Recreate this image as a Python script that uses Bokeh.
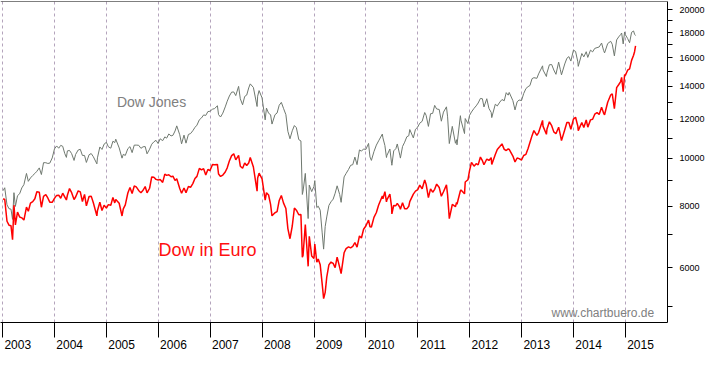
import pandas as pd
from bokeh.plotting import figure
from bokeh.models import FixedTicker, PrintfTickFormatter, CustomJSTickFormatter, Label, Range1d, Span
from bokeh.embed import file_html
from bokeh.resources import INLINE

dates = [
    "2003-01-03", "2003-01-15", "2003-01-31", "2003-02-14", "2003-02-28", "2003-03-11", "2003-03-21", "2003-03-31",
    "2003-04-15", "2003-04-30", "2003-05-15", "2003-05-30", "2003-06-17", "2003-06-30", "2003-07-15", "2003-07-31",
    "2003-08-15", "2003-08-29", "2003-09-15", "2003-09-30", "2003-10-15", "2003-10-31", "2003-11-14", "2003-11-28",
    "2003-12-15", "2003-12-31",
    "2004-01-15", "2004-01-30", "2004-02-13", "2004-02-27", "2004-03-12", "2004-03-24", "2004-03-31", "2004-04-15",
    "2004-04-30", "2004-05-17", "2004-05-28", "2004-06-15", "2004-06-30", "2004-07-15", "2004-07-30", "2004-08-12",
    "2004-08-31", "2004-09-15", "2004-09-30", "2004-10-25", "2004-10-29", "2004-11-15", "2004-11-30", "2004-12-15",
    "2004-12-31",
    "2005-01-14", "2005-01-31", "2005-02-15", "2005-02-28", "2005-03-07", "2005-03-31", "2005-04-20", "2005-04-29",
    "2005-05-13", "2005-05-31", "2005-06-15", "2005-06-30", "2005-07-15", "2005-07-29", "2005-08-15", "2005-08-31",
    "2005-09-15", "2005-09-30", "2005-10-13", "2005-10-31", "2005-11-15", "2005-11-30", "2005-12-15", "2005-12-30",
    "2006-01-13", "2006-01-31", "2006-02-15", "2006-02-28", "2006-03-15", "2006-03-31", "2006-04-13", "2006-04-28",
    "2006-05-10", "2006-05-31", "2006-06-13", "2006-06-30", "2006-07-14", "2006-07-31", "2006-08-15", "2006-08-31",
    "2006-09-15", "2006-09-29", "2006-10-16", "2006-10-31", "2006-11-15", "2006-11-30", "2006-12-15", "2006-12-29",
    "2007-01-16", "2007-01-31", "2007-02-20", "2007-02-28", "2007-03-14", "2007-03-30", "2007-04-16", "2007-04-30",
    "2007-05-15", "2007-05-31", "2007-06-15", "2007-06-29", "2007-07-19", "2007-07-31", "2007-08-16", "2007-08-31",
    "2007-09-14", "2007-09-28", "2007-10-09", "2007-10-31", "2007-11-26", "2007-11-30", "2007-12-10", "2007-12-31",
    "2008-01-22", "2008-01-31", "2008-02-15", "2008-02-29", "2008-03-10", "2008-03-31", "2008-04-15", "2008-04-30",
    "2008-05-15", "2008-05-30", "2008-06-16", "2008-06-30", "2008-07-15", "2008-07-31", "2008-08-15", "2008-08-29",
    "2008-09-15", "2008-09-30", "2008-10-10", "2008-10-15", "2008-10-31", "2008-11-20", "2008-11-28", "2008-12-15",
    "2008-12-31",
    "2009-01-06", "2009-01-20", "2009-01-30", "2009-02-13", "2009-02-27", "2009-03-09", "2009-03-20", "2009-03-31",
    "2009-04-15", "2009-04-30", "2009-05-15", "2009-05-29", "2009-06-12", "2009-06-30", "2009-07-10", "2009-07-31",
    "2009-08-14", "2009-08-31", "2009-09-15", "2009-09-30", "2009-10-15", "2009-10-30", "2009-11-16", "2009-11-30",
    "2009-12-15", "2009-12-31",
    "2010-01-19", "2010-01-29", "2010-02-08", "2010-02-26", "2010-03-15", "2010-03-31", "2010-04-26", "2010-04-30",
    "2010-05-14", "2010-05-25", "2010-05-28", "2010-06-18", "2010-06-30", "2010-07-02", "2010-07-15", "2010-07-30",
    "2010-08-09", "2010-08-27", "2010-08-31", "2010-09-15", "2010-09-30", "2010-10-15", "2010-10-29", "2010-11-05",
    "2010-11-30", "2010-12-15", "2010-12-31",
    "2011-01-14", "2011-01-31", "2011-02-18", "2011-02-28", "2011-03-16", "2011-03-31", "2011-04-15", "2011-04-29",
    "2011-05-13", "2011-05-31", "2011-06-15", "2011-06-30", "2011-07-21", "2011-07-29", "2011-08-10", "2011-08-31",
    "2011-09-22", "2011-09-30", "2011-10-03", "2011-10-27", "2011-10-31", "2011-11-25", "2011-11-30", "2011-12-19",
    "2011-12-30",
    "2012-01-13", "2012-01-31", "2012-02-15", "2012-02-29", "2012-03-16", "2012-03-30", "2012-04-10", "2012-04-30",
    "2012-05-15", "2012-05-31", "2012-06-04", "2012-06-29", "2012-07-13", "2012-07-31", "2012-08-15", "2012-08-31",
    "2012-09-14", "2012-09-28", "2012-10-05", "2012-10-31", "2012-11-15", "2012-11-30", "2012-12-14", "2012-12-31",
    "2013-01-15", "2013-01-31", "2013-02-15", "2013-02-28", "2013-03-15", "2013-03-28", "2013-04-18", "2013-04-30",
    "2013-05-28", "2013-05-31", "2013-06-24", "2013-06-28", "2013-07-15", "2013-07-31", "2013-08-15", "2013-08-30",
    "2013-09-18", "2013-09-30", "2013-10-08", "2013-10-31", "2013-11-15", "2013-11-29", "2013-12-13", "2013-12-31",
    "2014-01-15", "2014-01-31", "2014-02-03", "2014-02-28", "2014-03-14", "2014-03-31", "2014-04-11", "2014-04-30",
    "2014-05-15", "2014-05-30", "2014-06-15", "2014-06-30", "2014-07-17", "2014-07-31", "2014-08-07", "2014-08-29",
    "2014-09-19", "2014-09-30", "2014-10-15", "2014-10-31", "2014-11-14", "2014-11-28", "2014-12-05", "2014-12-16",
    "2014-12-26", "2014-12-31",
    "2015-01-16", "2015-01-30", "2015-02-13", "2015-02-27", "2015-03-06", "2015-03-13",
]

dow_jones = [
    8600, 8720, 8054, 7908, 7891, 7524, 8521, 7992, 8403, 8480, 8713, 8850, 9323, 8985, 9128, 9234,
    9321, 9416, 9567, 9275, 9803, 9801, 9768, 9782, 10022, 10454,
    10600, 10488, 10628, 10584, 10240, 10048, 10358, 10380, 10226, 9906, 10188, 10400, 10435, 10140, 10140, 9814,
    10174, 10230, 10080, 9750, 10027, 10550, 10428, 10690, 10783,
    10558, 10490, 10837, 10766, 10940, 10504, 10012, 10193, 10140, 10467, 10566, 10275, 10640, 10641, 10634, 10482,
    10558, 10569, 10217, 10440, 10686, 10806, 10881, 10718,
    10960, 10865, 11058, 10993, 11210, 11109, 11138, 11367, 11642, 11168, 10706, 11150, 10739, 11186, 11230, 11381,
    11560, 11679, 11980, 12081, 12251, 12222, 12445, 12463,
    12582, 12622, 12786, 12269, 12133, 12354, 12720, 13063, 13383, 13628, 13639, 13409, 14000, 13212, 12846, 13358,
    13442, 13896, 14164, 13930, 12743, 13372, 13727, 13265,
    11971, 12650, 12348, 12266, 11740, 12263, 12362, 12820, 12992, 12638, 12269, 11350, 10962, 11378, 11659, 11544,
    10917, 10851, 8451, 8578, 9325, 7552, 8829, 8564, 8776,
    9015, 7949, 8001, 7850, 7063, 6547, 7278, 7609, 8029, 8168, 8268, 8500, 8799, 8447, 8146, 9172,
    9321, 9496, 9683, 9712, 10062, 9713, 10406, 10345, 10452, 10428,
    10725, 10067, 9908, 10325, 10642, 10857, 11205, 11009, 10620, 10043, 10137, 10450, 9774, 9686, 10360, 10466,
    10698, 10150, 10015, 10572, 10788, 11063, 11118, 11444, 11006, 11457, 11578,
    11787, 11892, 12391, 12226, 11613, 12320, 12341, 12811, 12596, 12570, 11898, 12414, 12724, 12143, 10719, 11614,
    10734, 10913, 10655, 12208, 11955, 11231, 12046, 11766, 12218,
    12422, 12633, 12781, 12952, 13233, 13212, 12716, 13214, 12632, 12393, 12101, 12880, 12777, 13009, 13165, 13091,
    13594, 13437, 13610, 13096, 12542, 13026, 13135, 13104,
    13535, 13861, 13982, 14054, 14514, 14579, 14537, 14840, 15409, 15116, 14660, 14910, 15485, 15500, 15112, 14810,
    15677, 15130, 14776, 15546, 15962, 16086, 15755, 16577,
    16482, 15699, 15373, 16322, 16066, 16458, 16027, 16581, 16447, 16717, 16775, 16827, 17138, 16563, 16368, 17098,
    17280, 17043, 16141, 17391, 17634, 17828, 17958, 17068, 18053, 17823,
    17511, 17165, 18019, 18133, 17856, 17750,
]

dow_in_euro = [
    8270, 8265, 7457, 7322, 7306, 6840, 8039, 7332, 7781, 7605, 7577, 7500, 7968, 7813, 8114, 8172,
    8285, 8560, 8542, 7961, 8379, 8449, 8313, 8152, 8148, 8297,
    8413, 8424, 8303, 8501, 8359, 8236, 8421, 8686, 8522, 8255, 8351, 8595, 8553, 8177, 8450, 8011,
    8374, 8385, 8129, 7647, 7834, 8147, 7841, 8038, 7929,
    8060, 8038, 8336, 8125, 8257, 8111, 7643, 7902, 8048, 8510, 8732, 8492, 8793, 8758, 8611, 8522,
    8619, 8771, 8514, 8700, 9173, 9158, 9068, 9045,
    9058, 8942, 9292, 9238, 9264, 9181, 9205, 9021, 9095, 8691, 8497, 8711, 8523, 8773, 8739, 8891,
    9102, 9196, 9546, 9475, 9534, 9259, 9500, 9442,
    9716, 9709, 9723, 9295, 9192, 9254, 9387, 9570, 9877, 10132, 10216, 9933, 10145, 9644, 9551, 9786,
    9671, 9786, 10045, 9607, 8581, 9128, 9338, 9086,
    8227, 8519, 8429, 8070, 7648, 7761, 7800, 8218, 8409, 8127, 7915, 7206, 6873, 7294, 7931, 7853,
    7688, 7696, 6307, 6354, 7343, 6042, 6952, 6344, 6269,
    6703, 6162, 6251, 6085, 5561, 5196, 5351, 5743, 6083, 6165, 6124, 6007, 6308, 6012, 5839, 6436,
    6564, 6617, 6587, 6629, 6753, 6607, 6961, 6897, 7184, 7292,
    7500, 7269, 7259, 7592, 7768, 8042, 8393, 8277, 8565, 8165, 8241, 8462, 7979, 7718, 8031, 8020,
    8105, 7961, 7886, 8132, 7903, 7902, 7998, 8174, 8466, 8582, 8640,
    8829, 8680, 9045, 8859, 8325, 8676, 8541, 8656, 8870, 8729, 8379, 8561, 8836, 8433, 7549, 8065,
    7981, 8144, 8072, 8597, 8632, 8476, 8956, 9051, 9435,
    9820, 9644, 9756, 9702, 10063, 9897, 9707, 9973, 9907, 10035, 9720, 10182, 10430, 10576, 10703, 10431,
    10377, 10457, 10429, 10113, 9837, 10020, 9989, 9927,
    10139, 10192, 10473, 10769, 11122, 11390, 11140, 11285, 11945, 11628, 11191, 11469, 11866, 11654, 11320, 11220,
    11570, 11166, 10865, 11431, 11824, 11828, 11458, 12012,
    12119, 11629, 11387, 11828, 11558, 11969, 11572, 11972, 12005, 12292, 12380, 12283, 12695, 12360, 12261, 13002,
    13447, 13526, 12610, 13913, 14107, 14320, 14600, 13654, 14798, 14730,
    15096, 15190, 15806, 16190, 16457, 16905,
]

years = list(range(2003, 2016))
y_labeled_ticks = [6000, 8000, 10000, 12000, 14000, 16000, 18000, 20000]
y_unlabeled_ticks = [5000, 7000, 9000, 11000, 13000, 15000, 17000, 19000]

d = pd.to_datetime(dates)
t = list(d.year + (d.dayofyear - 1) / (365 + d.is_leap_year.astype(int)))

FONT = "Liberation Sans"
Y_TOP = 20808

p = figure(width=707, height=351, output_backend="svg", toolbar_location=None,
           y_axis_type="log", y_axis_location="right",
           x_range=Range1d(2002.957, 2015.81), y_range=Range1d(4648, Y_TOP),
           min_border_left=0, min_border_top=1, min_border_right=0, min_border_bottom=0)
p.outline_line_color = None
p.background_fill_color = "white"
p.border_fill_color = "white"

# vertical dashed year lines
p.xgrid.ticker = FixedTicker(ticks=years)
p.xgrid.grid_line_color = "#b4a4bc"
p.xgrid.grid_line_dash = "3 3"
p.xgrid.grid_line_width = 1
p.ygrid.grid_line_color = None

# top border line
p.add_layout(Span(location=Y_TOP, dimension="width", line_color="black", line_width=1))

# x axis: tick at year start, label to the right of it
xa = p.xaxis[0]
xa.ticker = FixedTicker(ticks=[y + 0.29 for y in years], minor_ticks=years)
xa.formatter = CustomJSTickFormatter(code="return Math.floor(tick + 1e-6).toString();")
xa.major_tick_out = 0
xa.major_tick_in = 0
xa.minor_tick_out = 15
xa.minor_tick_in = 0
xa.minor_tick_line_color = "black"
xa.axis_line_color = "black"
xa.major_label_standoff = 2
xa.major_label_text_font = FONT
xa.major_label_text_font_size = "12px"
xa.major_label_text_color = "black"

# y axis (right, log)
ya = p.yaxis[0]
ya.ticker = FixedTicker(ticks=y_labeled_ticks, minor_ticks=y_unlabeled_ticks)
ya.formatter = PrintfTickFormatter(format="%d")
ya.major_tick_out = 5
ya.major_tick_in = 0
ya.minor_tick_out = 5
ya.minor_tick_in = 0
ya.major_tick_line_color = "black"
ya.minor_tick_line_color = "black"
ya.axis_line_color = "black"
ya.major_label_standoff = 7
ya.major_label_text_font = FONT
ya.major_label_text_font_size = "9px"
ya.major_label_text_color = "black"

p.line(t, dow_jones, line_color="#6f786f", line_width=1)
p.line(t, dow_in_euro, line_color="#ff0000", line_width=1.5)

p.add_layout(Label(x=2005.2, y=13024, text="Dow Jones", text_color="#808080",
                   text_font=FONT, text_font_size="14px", text_baseline="alphabetic"))
p.add_layout(Label(x=2006.0, y=6506, text="Dow in Euro", text_color="#ff1010",
                   text_font=FONT, text_font_size="18px", text_baseline="alphabetic"))
p.add_layout(Label(x=2013.574, y=4870, text="www.chartbuero.de", text_color="#808080",
                   text_font=FONT, text_font_size="12px", text_baseline="alphabetic"))

open("out.html", "w").write(file_html(p, INLINE))
